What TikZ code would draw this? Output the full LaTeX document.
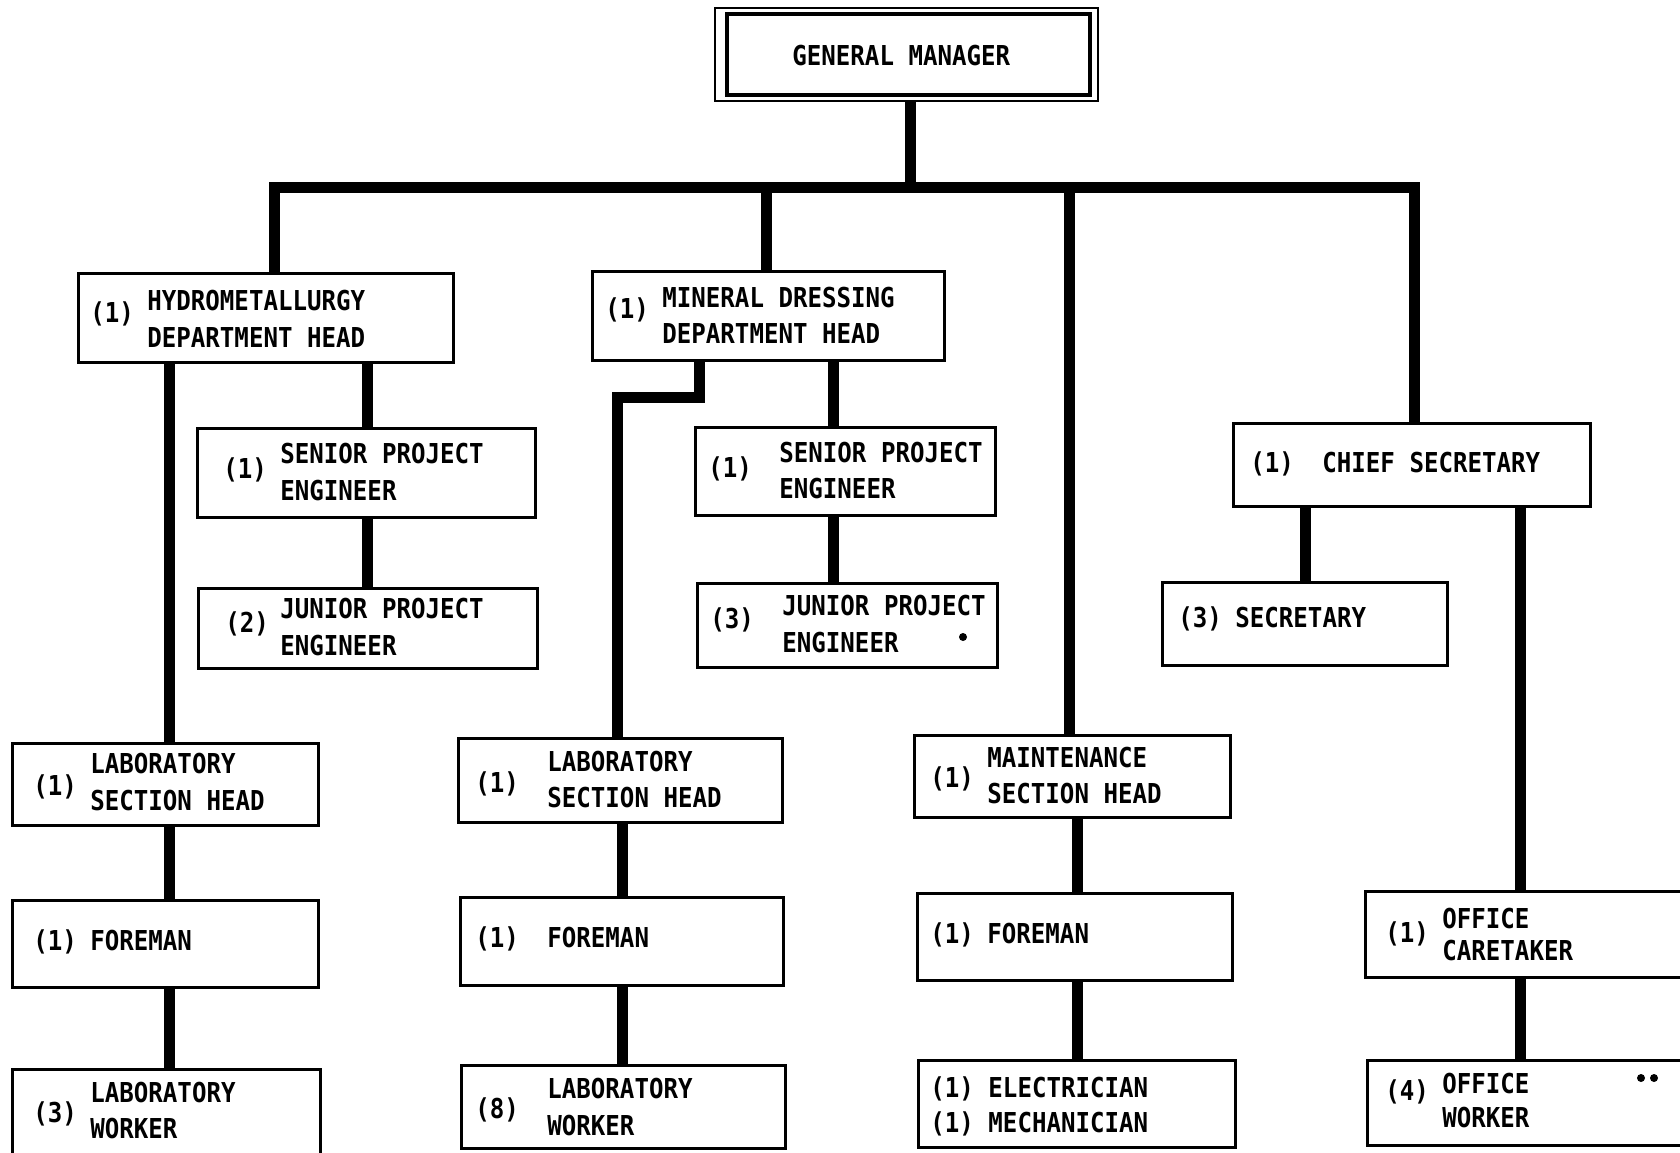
\documentclass[tikz,border=0pt]{standalone}
\usepackage{fontspec}
\newfontfamily\orgfont{DejaVu Sans Mono}[FakeStretch=0.88]
\usetikzlibrary{fit}

\tikzset{
  box/.style={draw, rectangle, line width=1.5pt, fill=white, inner sep=0pt},
  link/.style={line width=5.5pt, line cap=butt, line join=miter},
  lbl/.style={inner sep=0pt, anchor=base west,
    font=\orgfont\bfseries\fontsize{13.7pt}{16pt}\selectfont},
}

\begin{document}
\begin{tikzpicture}[x=0.5pt, y=-0.5pt]
\useasboundingbox (0,0) rectangle (1680,1152);
\clip (0,0) rectangle (1680,1152);
\fill[white] (0,0) rectangle (1680,1152);

% ---------- boxes ----------
\node[box, line width=1pt, fit={(715,8) (1098,101)}] (gmo) {};
\node[box, line width=2.4pt, fit={(727,14) (1090,95)}] (gm) {};

\node[box, fit={(78,273) (453,362)}] (hyd) {};
\node[box, fit={(197,428) (535,517)}] (speL) {};
\node[box, fit={(198,588) (537,668)}] (jpeL) {};

\node[box, fit={(592,271) (944,360)}] (min) {};
\node[box, fit={(695,427) (995,515)}] (speM) {};
\node[box, fit={(697,583) (997,667)}] (jpeM) {};

\node[box, fit={(1233,423) (1590,506)}] (chief) {};
\node[box, fit={(1162,582) (1447,665)}] (sec) {};

\node[box, fit={(12,743) (318,825)}] (lshL) {};
\node[box, fit={(12,900) (318,987)}] (forL) {};
\node[box, fit={(12,1069) (320,1170)}] (lwL) {};

\node[box, fit={(458,738) (782,822)}] (lshM) {};
\node[box, fit={(460,897) (783,985)}] (forM) {};
\node[box, fit={(461,1065) (785,1148)}] (lwM) {};

\node[box, fit={(914,735) (1230,817)}] (mnt) {};
\node[box, fit={(917,893) (1232,980)}] (forR) {};
\node[box, fit={(918,1060) (1235,1147)}] (elec) {};

\node[box, fit={(1365,891) (1720,977)}] (care) {};
\node[box, fit={(1367,1060) (1720,1145)}] (ow) {};

% ---------- connector guide points ----------
\coordinate (busL) at (274,187);
\coordinate (busR) at (1414,187);
\coordinate (gmx) at (910,187);
\coordinate (minx) at (766,187);
\coordinate (mntx) at (1069,187);
\coordinate (xL) at (169,0);
\coordinate (xLs) at (367,0);
\coordinate (mb1) at (699,397);
\coordinate (mb2) at (617,397);
\coordinate (xMs) at (833,0);
\coordinate (xM) at (622,0);
\coordinate (xR) at (1077,0);
\coordinate (xSec) at (1305,0);
\coordinate (xCare) at (1520,0);

% ---------- connectors ----------
\draw[link] (gmo.south -| gmx) -- (gmx);
\draw[link] (hyd.north -| busL) -- (busL) -- (busR) -- (chief.north -| busR);
\draw[link] (minx) -- (min.north -| minx);
\draw[link] (mntx) -- (mnt.north -| mntx);

\draw[link] (hyd.south -| xL) -- (lshL.north -| xL);
\draw[link] (lshL.south -| xL) -- (forL.north -| xL);
\draw[link] (forL.south -| xL) -- (lwL.north -| xL);
\draw[link] (hyd.south -| xLs) -- (speL.north -| xLs);
\draw[link] (speL.south -| xLs) -- (jpeL.north -| xLs);

\draw[link] (min.south -| mb1) -- (mb1) -- (mb2) -- (lshM.north -| mb2);
\draw[link] (min.south -| xMs) -- (speM.north -| xMs);
\draw[link] (speM.south -| xMs) -- (jpeM.north -| xMs);
\draw[link] (lshM.south -| xM) -- (forM.north -| xM);
\draw[link] (forM.south -| xM) -- (lwM.north -| xM);

\draw[link] (mnt.south -| xR) -- (forR.north -| xR);
\draw[link] (forR.south -| xR) -- (elec.north -| xR);

\draw[link] (chief.south -| xSec) -- (sec.north -| xSec);
\draw[link] (chief.south -| xCare) -- (care.north -| xCare);
\draw[link] (care.south -| xCare) -- (ow.north -| xCare);

% ---------- labels (base line = line centre + 10) ----------
\node[lbl] (gm-t) at (792,65) {GENERAL MANAGER};

\node[lbl] (hyd-n) at (90,322) {(1)};
\node[lbl] (hyd-a) at (147,310) {HYDROMETALLURGY};
\node[lbl] (hyd-b) at (147,347) {DEPARTMENT HEAD};

\node[lbl] (speL-n) at (223,478) {(1)};
\node[lbl] (speL-a) at (280,463) {SENIOR PROJECT};
\node[lbl] (speL-b) at (280,500) {ENGINEER};

\node[lbl] (jpeL-n) at (225,632) {(2)};
\node[lbl] (jpeL-a) at (280,618) {JUNIOR PROJECT};
\node[lbl] (jpeL-b) at (280,655) {ENGINEER};

\node[lbl] (min-n) at (605,318) {(1)};
\node[lbl] (min-a) at (662,307) {MINERAL DRESSING};
\node[lbl] (min-b) at (662,343) {DEPARTMENT HEAD};

\node[lbl] (speM-n) at (708,477) {(1)};
\node[lbl] (speM-a) at (779,462) {SENIOR PROJECT};
\node[lbl] (speM-b) at (779,498) {ENGINEER};

\node[lbl] (jpeM-n) at (710,628) {(3)};
\node[lbl] (jpeM-a) at (782,615) {JUNIOR PROJECT};
\node[lbl] (jpeM-b) at (782,652) {ENGINEER};
\fill (963,637) circle[radius=2pt];

\node[lbl] (chief-n) at (1250,472) {(1)};
\node[lbl] (chief-a) at (1322,472) {CHIEF SECRETARY};

\node[lbl] (sec-n) at (1178,627) {(3)};
\node[lbl] (sec-a) at (1235,627) {SECRETARY};

\node[lbl] (lshL-n) at (33,795) {(1)};
\node[lbl] (lshL-a) at (90,773) {LABORATORY};
\node[lbl] (lshL-b) at (90,810) {SECTION HEAD};

\node[lbl] (forL-n) at (33,950) {(1)};
\node[lbl] (forL-a) at (90,950) {FOREMAN};

\node[lbl] (lwL-n) at (33,1122) {(3)};
\node[lbl] (lwL-a) at (90,1102) {LABORATORY};
\node[lbl] (lwL-b) at (90,1138) {WORKER};

\node[lbl] (lshM-n) at (475,792) {(1)};
\node[lbl] (lshM-a) at (547,771) {LABORATORY};
\node[lbl] (lshM-b) at (547,807) {SECTION HEAD};

\node[lbl] (forM-n) at (475,947) {(1)};
\node[lbl] (forM-a) at (547,947) {FOREMAN};

\node[lbl] (lwM-n) at (475,1118) {(8)};
\node[lbl] (lwM-a) at (547,1098) {LABORATORY};
\node[lbl] (lwM-b) at (547,1135) {WORKER};

\node[lbl] (mnt-n) at (930,787) {(1)};
\node[lbl] (mnt-a) at (987,767) {MAINTENANCE};
\node[lbl] (mnt-b) at (987,803) {SECTION HEAD};

\node[lbl] (forR-n) at (930,943) {(1)};
\node[lbl] (forR-a) at (987,943) {FOREMAN};

\node[lbl] (elec-a) at (930,1097) {(1) ELECTRICIAN};
\node[lbl] (elec-b) at (930,1132) {(1) MECHANICIAN};

\node[lbl] (care-n) at (1385,942) {(1)};
\node[lbl] (care-a) at (1442,928) {OFFICE};
\node[lbl] (care-b) at (1442,960) {CARETAKER};

\node[lbl] (ow-n) at (1385,1100) {(4)};
\node[lbl] (ow-a) at (1442,1093) {OFFICE};
\node[lbl] (ow-b) at (1442,1127) {WORKER};
\fill (1641,1078) circle[radius=2pt];
\fill (1654,1078) circle[radius=2pt];
\end{tikzpicture}
\end{document}
